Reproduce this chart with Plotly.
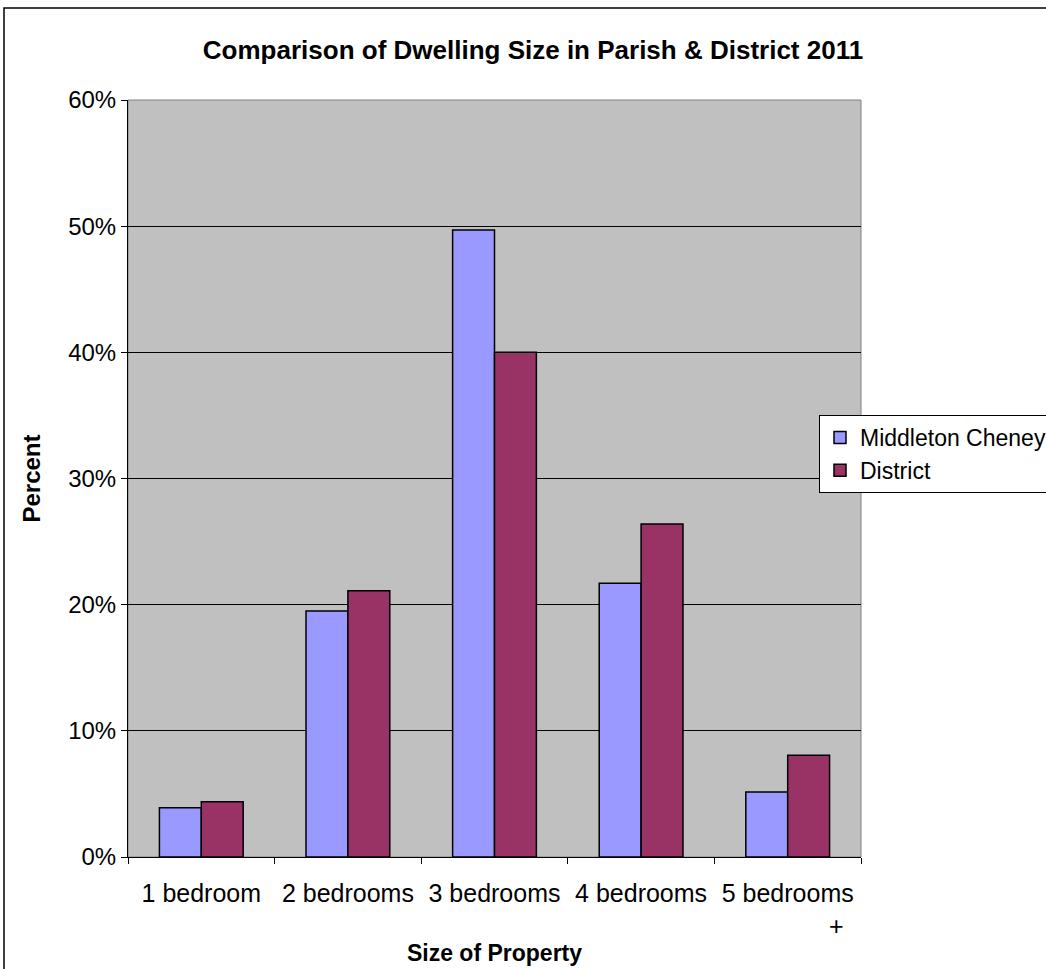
import plotly.graph_objects as go

categories = ["1 bedroom", "2 bedrooms", "3 bedrooms", "4 bedrooms", "5 bedrooms +"]
tick_labels = ["1 bedroom", "2 bedrooms", "3 bedrooms", "4 bedrooms",
               "5 bedrooms<br>" + "\u00a0" * 14 + "+"]
middleton_cheney = [0.039, 0.195, 0.497, 0.217, 0.0515]
district = [0.0437, 0.211, 0.400, 0.264, 0.0806]

W, H = 1046, 969
L, R, T, B = 128, 185, 100, 112
pw, ph = W - L - R, H - T - B

fig = go.Figure()
fig.add_trace(go.Bar(x=categories, y=middleton_cheney, name="Middleton Cheney",
                     marker=dict(color="#9999FF", line=dict(color="black", width=1.5))))
fig.add_trace(go.Bar(x=categories, y=district, name="District",
                     marker=dict(color="#993366", line=dict(color="black", width=1.5))))

font = "Liberation Sans, Arial, sans-serif"
fig.update_layout(
    width=W, height=H, autosize=False,
    margin=dict(l=L, r=R, t=T, b=B, autoexpand=False),
    paper_bgcolor="white", plot_bgcolor="#C0C0C0",
    font=dict(family=font, size=24, color="black"),
    barmode="group", bargap=0.4286, bargroupgap=0,
    title=dict(text="<b>Comparison of Dwelling Size in Parish & District 2011</b>",
               x=533 / W, xanchor="center", y=1 - 50 / H, yanchor="middle",
               font=dict(size=26)),
    legend=dict(x=(819 - L) / pw, xanchor="left", y=(H - B - 415) / ph, yanchor="top",
                bgcolor="white", bordercolor="black", borderwidth=1,
                font=dict(size=23), tracegroupgap=0, itemwidth=30),
    showlegend=True,
)
fig.update_xaxes(type="category", tickmode="array", tickvals=categories, ticktext=tick_labels,
                 tickson="boundaries", ticks="outside", ticklen=6, tickcolor="black",
                 showline=True, linecolor="black", linewidth=1, showgrid=False,
                 tickangle=0, automargin=False,
                 ticklabelstandoff=14, tickfont=dict(size=25),
                 title=dict(text="<b>Size of Property</b>", font=dict(size=23), standoff=6))
fig.update_yaxes(range=[0, 0.6], dtick=0.1, tickformat=".0%", ticks="outside", ticklen=6,
                 tickcolor="black", showline=True, linecolor="black", linewidth=1,
                 showgrid=True, gridcolor="black", gridwidth=1, zeroline=False,
                 automargin=False, tickfont=dict(size=24),
                 title=dict(text="<b>Percent</b>", font=dict(size=24), standoff=20))
# plot-area border (gray) and outer chart border
fig.add_shape(type="rect", xref="paper", yref="paper", x0=0, y0=0, x1=1, y1=1,
              line=dict(color="#808080", width=1), layer="below")
fig.add_shape(type="rect", xref="paper", yref="paper",
              x0=(4 - L) / pw, x1=(W + 20 - L) / pw,
              y0=-(H + 20 - (H - B)) / ph, y1=(H - B - 8) / ph,
              line=dict(color="black", width=1.5))
fig.write_html("out.html", config={"displayModeBar": False},
               post_script="document.body.style.margin='0px';")
